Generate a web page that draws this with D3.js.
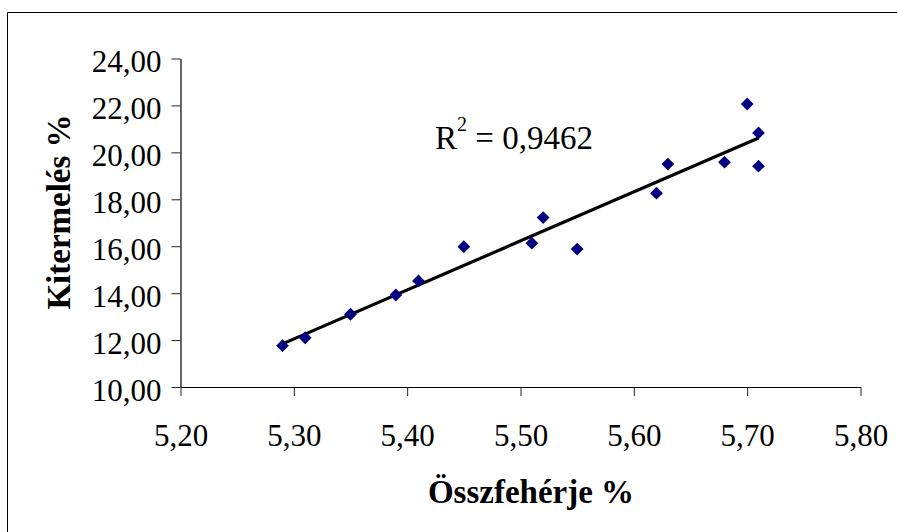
<!DOCTYPE html>
<html>
<head>
<meta charset="utf-8">
<script src="https://cdn.jsdelivr.net/npm/d3@7"></script>
<style>
  html, body { margin: 0; padding: 0; background: #fff; }
  svg { display: block; }
  text { font-family: "Liberation Serif", "Times New Roman", serif; fill: #000; }
</style>
</head>
<body>
<svg id="chart" width="897" height="532"></svg>
<script>
// Protein content (x) versus yield (y)
const protein = [5.29, 5.31, 5.35, 5.39, 5.41, 5.45, 5.51, 5.52, 5.55, 5.62, 5.63, 5.68, 5.70, 5.71, 5.71];
const yieldPct = [11.76, 12.10, 13.10, 13.92, 14.52, 15.98, 16.13, 17.22, 15.88, 18.26, 19.50, 19.58, 22.06, 20.83, 19.41];

const xTicks = [5.20, 5.30, 5.40, 5.50, 5.60, 5.70, 5.80];
const yTicks = [10, 12, 14, 16, 18, 20, 22, 24];
const xTitle = "Összfehérje %";
const yTitle = "Kitermelés %";
const r2Label = "0,9462";

const svg = d3.select("#chart");
const W = 897, H = 532;

svg.append("rect").attr("width", W).attr("height", H).attr("fill", "#fff");

// outer chart frame (runs off the right and bottom edges)
svg.append("path")
  .attr("d", `M7.5,${H + 2} V12.5 H${W + 2}`)
  .attr("fill", "none").attr("stroke", "#000").attr("stroke-width", 1);

const plot = { left: 180.5, right: 860.5, top: 58.5, bottom: 387 };

const x = d3.scaleLinear().domain([5.2, 5.8]).range([plot.left, plot.right]);
const y = d3.scaleLinear().domain([10, 24]).range([plot.bottom, plot.top]);

const comma = (d, p) => d3.format(`.${p}f`)(d).replace(".", ",");

// axes
const xAxis = svg.append("g")
  .attr("transform", `translate(0,${plot.bottom})`)
  .call(d3.axisBottom(x).tickValues(xTicks).tickSize(9).tickSizeOuter(0).tickPadding(28)
    .tickFormat(d => comma(d, 2)));
const yAxis = svg.append("g")
  .attr("transform", `translate(${plot.left},0)`)
  .call(d3.axisLeft(y).tickValues(yTicks).tickSize(9).tickSizeOuter(0).tickPadding(10)
    .tickFormat(d => comma(d, 2)));

[xAxis, yAxis].forEach(g => {
  g.select(".domain").attr("stroke", "#000").attr("stroke-width", 1.2);
  g.selectAll(".tick line").attr("stroke", "#222").attr("stroke-width", 1);
  g.selectAll(".tick text")
    .attr("font-family", "Liberation Serif, Times New Roman, serif")
    .attr("font-size", 31).attr("fill", "#000");
});
yAxis.selectAll(".tick text").attr("dy", "0.43em");

// least-squares trend line
const n = protein.length;
const mx = d3.mean(protein), my = d3.mean(yieldPct);
let sxy = 0, sxx = 0;
for (let i = 0; i < n; i++) {
  sxy += (protein[i] - mx) * (yieldPct[i] - my);
  sxx += (protein[i] - mx) ** 2;
}
const slope = sxy / sxx, intercept = my - slope * mx;
const [x0, x1] = d3.extent(protein);

svg.append("line")
  .attr("x1", x(x0)).attr("y1", y(intercept + slope * x0))
  .attr("x2", x(x1)).attr("y2", y(intercept + slope * x1))
  .attr("stroke", "#000").attr("stroke-width", 3.2);

// diamond markers
const diamond = d3.symbol().type(d3.symbolSquare).size(82);
svg.append("g").selectAll("path")
  .data(protein.map((p, i) => [p, yieldPct[i]]))
  .join("path")
  .attr("d", diamond)
  .attr("transform", d => `translate(${x(d[0])},${y(d[1])}) rotate(45)`)
  .attr("fill", "#000080");

// R² annotation
const r2 = svg.append("text")
  .attr("x", 435).attr("y", 149)
  .attr("font-size", 33);
r2.append("tspan").text("R");
r2.append("tspan").attr("font-size", 20).attr("dy", -18).text("2");
r2.append("tspan").attr("dy", 18).text(" = " + r2Label);

// axis titles
svg.append("text")
  .attr("x", 531).attr("y", 503)
  .attr("text-anchor", "middle")
  .attr("font-size", 33).attr("font-weight", "bold")
  .text(xTitle);

svg.append("text")
  .attr("transform", "translate(70,212) rotate(-90)")
  .attr("text-anchor", "middle")
  .attr("font-size", 33).attr("font-weight", "bold")
  .text(yTitle);
</script>
</body>
</html>
